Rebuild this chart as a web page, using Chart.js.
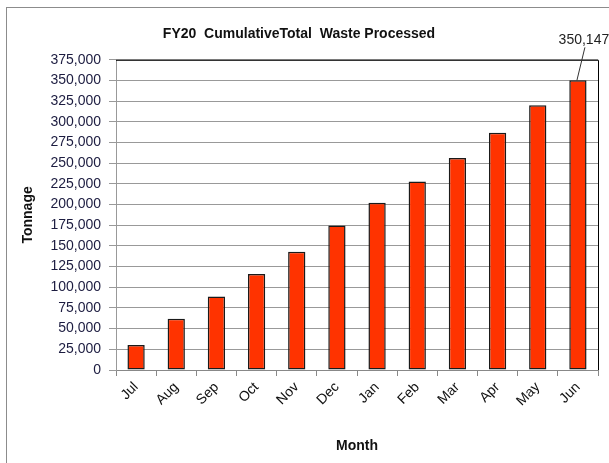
<!DOCTYPE html>
<html>
<head>
<meta charset="utf-8">
<script src="https://cdn.jsdelivr.net/npm/chart.js@4"></script>
<style>
  body { margin: 0; background: #fff; overflow: hidden; }
  #frame { position: absolute; left: 6px; top: 7px; width: 640px; height: 500px; border: 1px solid #8c8c8c; }
  #wrap { position: absolute; left: 0; top: 0; width: 609px; height: 463px; }
</style>
</head>
<body>
<div id="frame"></div>
<div id="wrap"><canvas id="wasteChart"></canvas></div>
<script>
const months = ['Jul', 'Aug', 'Sep', 'Oct', 'Nov', 'Dec', 'Jan', 'Feb', 'Mar', 'Apr', 'May', 'Jun'];
const cumulativeTons = [30300, 61900, 88900, 116100, 143100, 174700, 202300, 227800, 256400, 286800, 320100, 350147];
const yMax = 375000;
const yStep = 25000;

const FONT = 'Arial, "Liberation Sans", sans-serif';

// label on the last bar with a little leader line, plus the black box edges
const extras = {
  id: 'extras',
  afterDatasetsDraw(chart) {
    const ctx = chart.ctx;
    const area = chart.chartArea;
    ctx.save();
    ctx.strokeStyle = '#000';
    ctx.lineWidth = 1;
    ctx.beginPath();
    ctx.moveTo(area.left, area.top + 0.5);
    ctx.lineTo(area.right + 0.5, area.top + 0.5);
    ctx.lineTo(area.right + 0.5, area.bottom);
    ctx.stroke();

    const meta = chart.getDatasetMeta(0);
    const last = meta.data[meta.data.length - 1];
    ctx.strokeStyle = '#333';
    ctx.beginPath();
    ctx.moveTo(last.x - 1, last.y);
    ctx.lineTo(last.x + 7, last.y - 33);
    ctx.stroke();
    ctx.fillStyle = '#222';
    ctx.font = '14px ' + FONT;
    ctx.textAlign = 'center';
    ctx.textBaseline = 'middle';
    ctx.fillText(cumulativeTons[cumulativeTons.length - 1].toLocaleString('en-US'), last.x + 6, last.y - 40);
    ctx.restore();
  }
};

new Chart(document.getElementById('wasteChart'), {
  type: 'bar',
  data: {
    labels: months,
    datasets: [{
      data: cumulativeTons,
      backgroundColor: '#ff3300',
      borderColor: '#1a1a1a',
      borderWidth: 1.5,
      borderSkipped: false,
      barPercentage: 0.43,
      categoryPercentage: 1
    }]
  },
  options: {
    responsive: true,
    maintainAspectRatio: false,
    animation: false,
    layout: { padding: { left: 0, right: 11, top: 4, bottom: 8 } },
    plugins: {
      legend: { display: false },
      tooltip: { enabled: false },
      title: {
        display: true,
        text: 'FY20  CumulativeTotal  Waste Processed',
        color: '#111',
        font: { family: FONT, size: 14, weight: 'bold' },
        padding: { top: 22, bottom: 17 }
      }
    },
    scales: {
      x: {
        grid: { drawOnChartArea: false, color: '#888', tickLength: 6, offset: true },
        border: { color: '#888' },
        ticks: {
          color: '#111',
          font: { family: FONT, size: 14 },
          minRotation: 45,
          maxRotation: 45,
          padding: 3
        },
        title: {
          display: true,
          text: 'Month',
          color: '#111',
          font: { family: FONT, size: 14, weight: 'bold' },
          padding: { top: 0, bottom: 0 }
        },
        afterFit(axis) { axis.height = 85; }
      },
      y: {
        min: 0,
        max: yMax,
        grid: { color: '#999', tickLength: 7 },
        border: { color: '#999' },
        ticks: {
          stepSize: yStep,
          color: '#1c1c40',
          font: { family: FONT, size: 14 },
          padding: 8,
          callback: v => v.toLocaleString('en-US')
        },
        title: {
          display: true,
          text: 'Tonnage',
          color: '#111',
          font: { family: FONT, size: 14, weight: 'bold' },
          padding: { top: 20, bottom: 0 }
        },
        afterFit(axis) { axis.width = 116; }
      }
    }
  },
  plugins: [extras]
});
</script>
</body>
</html>
